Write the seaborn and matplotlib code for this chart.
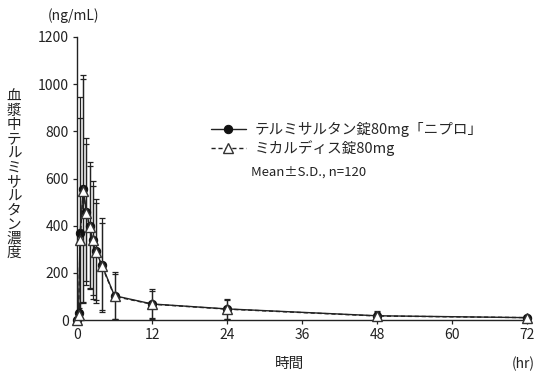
import matplotlib
matplotlib.use("Agg")
import matplotlib.pyplot as plt
import seaborn as sns
import pandas as pd
import numpy as np

times = [0, 0.25, 0.5, 1, 1.5, 2, 2.5, 3, 4, 6, 12, 24, 48, 72]
nipro_mean = [0, 30, 370, 555, 460, 400, 340, 293, 232, 103, 68, 47, 18, 10]
nipro_sd = [0, 40, 485, 484, 310, 270, 250, 220, 200, 100, 62, 42, 20, 8]
micardis_mean = [0, 20, 340, 548, 455, 395, 338, 290, 228, 100, 67, 46, 17, 10]
micardis_sd = [0, 30, 607, 472, 290, 260, 230, 205, 185, 95, 58, 40, 18, 7]

label_nipro = "テルミサルタン錠80mg「ニプロ」"
label_micardis = "ミカルディス錠80mg"
note = "Mean±S.D., n=120"
xticks = [0, 12, 24, 36, 48, 60, 72]
yticks = [0, 200, 400, 600, 800, 1000, 1200]

sns.set_style("ticks")
plt.rcParams['font.family'] = ['Noto Sans CJK JP', 'DejaVu Sans']

fig = plt.figure(figsize=(5.44, 3.8), dpi=100)
ax = fig.add_axes([77/544, 1-320/380, 450/544, 283/380])

df = pd.DataFrame({
    "time": times * 2,
    "conc": nipro_mean + micardis_mean,
    "group": [label_nipro] * len(times) + [label_micardis] * len(times),
})

# error bars
ax.errorbar(times, nipro_mean, yerr=nipro_sd, fmt='none', ecolor='#222222',
            elinewidth=0.9, capsize=2.2, capthick=0.9, zorder=2)
ax.errorbar(times, micardis_mean, yerr=micardis_sd, fmt='none', ecolor='#222222',
            elinewidth=0.9, capsize=2.2, capthick=0.9, zorder=2)

sns.lineplot(data=df[df.group == label_nipro], x="time", y="conc", ax=ax,
             color='#222222', linewidth=1.0, marker='o', markersize=6,
             markerfacecolor='#111111', markeredgecolor='#111111',
             label=label_nipro, zorder=3, clip_on=False)
sns.lineplot(data=df[df.group == label_micardis], x="time", y="conc", ax=ax,
             color='#222222', linewidth=1.0, linestyle=(0, (3, 2)), marker='^',
             markersize=7, markerfacecolor='white', markeredgecolor='#333333',
             markeredgewidth=1.0, label=label_micardis, zorder=4, clip_on=False)

ax.set_xlim(0, 72)
ax.set_ylim(0, 1200)
ax.set_xticks(xticks)
ax.set_yticks(yticks)
ax.set_xlabel("")
ax.set_ylabel("")
ax.tick_params(axis='both', direction='out', length=3, width=0.9, labelsize=10,
               colors='#222222', pad=3)
for s in ['top', 'right']:
    ax.spines[s].set_visible(False)
for s in ['left', 'bottom']:
    ax.spines[s].set_linewidth(1.0)
    ax.spines[s].set_color('#222222')

handles, labels = ax.get_legend_handles_labels()
ax.get_legend().remove()
fig.legend(handles=handles, labels=labels, loc='upper left',
           bbox_to_anchor=(205/544, 1-116/380), frameon=False,
           fontsize=10.5, handlelength=2.4, handletextpad=0.6, borderaxespad=0,
           labelspacing=0.25)
fig.text(251/544, 1-172/380, note, fontsize=9.5, va='center', ha='left', color='#222222')

fig.text(48/544, 1-16/380, "(ng/mL)", fontsize=10, va='center', ha='left', color='#222222')
fig.text(290/544, 1-364/380, "時間", fontsize=10.5, va='center', ha='center', color='#222222')
fig.text(512/544, 1-364/380, "(hr)", fontsize=10, va='center', ha='left', color='#222222')

ylab = "血漿中テルミサルタン濃度"
fig.text(14/544, 1-175/380, "\n".join(ylab), fontsize=10.5, va='center', ha='center',
         linespacing=1.02, color='#222222')

fig.savefig("out.png", dpi=100)
